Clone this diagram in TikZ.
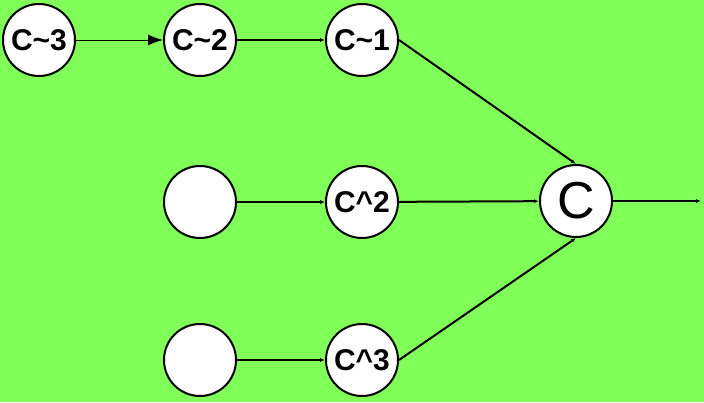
\documentclass[tikz,border=0pt]{standalone}
\usepackage{fontspec}
\setmainfont{Liberation Sans}
\usetikzlibrary{arrows.meta}
\definecolor{bggreen}{RGB}{128,255,88}
\begin{document}
\begin{tikzpicture}[x=1pt,y=-1pt,
  circ/.style={circle,draw=black,line width=2pt,fill=white,minimum size=72pt,inner sep=0pt,
    font=\fontsize{30}{30}\selectfont\bfseries},
  bigcirc/.style={circ,font=\fontsize{52}{52}\selectfont},
  conn/.style={line width=2pt,-{Latex[length=5pt,width=4pt]}},
  thinconn/.style={line width=1pt,-{Latex[length=15pt,width=11pt]}}]
\fill[bggreen] (0,0) rectangle (704,402);
\useasboundingbox (0,0) rectangle (704,402);
\node[circ] (c3m) at (39,40) {C\textasciitilde3};
\node[circ] (c2m) at (200,40) {C\textasciitilde2};
\node[circ] (c1m) at (362,40) {C\textasciitilde1};
\node[circ] (b2) at (200,202) {};
\node[circ] (c2p) at (362,202) {C\textasciicircum2};
\node[bigcirc] (c) at (576,201) {C};
\node[circ] (b3) at (200,360) {};
\node[circ] (c3p) at (362,360) {C\textasciicircum3};
\coordinate (out) at (701,201);
\draw[thinconn] (c3m) -- (c2m);
\draw[conn] (c2m) -- (c1m);
\draw[conn] (b2) -- (c2p);
\draw[conn] (b3) -- (c3p);
\draw[conn] (c1m.east) -- (c.north);
\draw[conn] (c2p) -- (c);
\draw[conn] (c3p.east) -- (c.south);
\draw[conn] (c) -- (out);
\end{tikzpicture}
\end{document}
